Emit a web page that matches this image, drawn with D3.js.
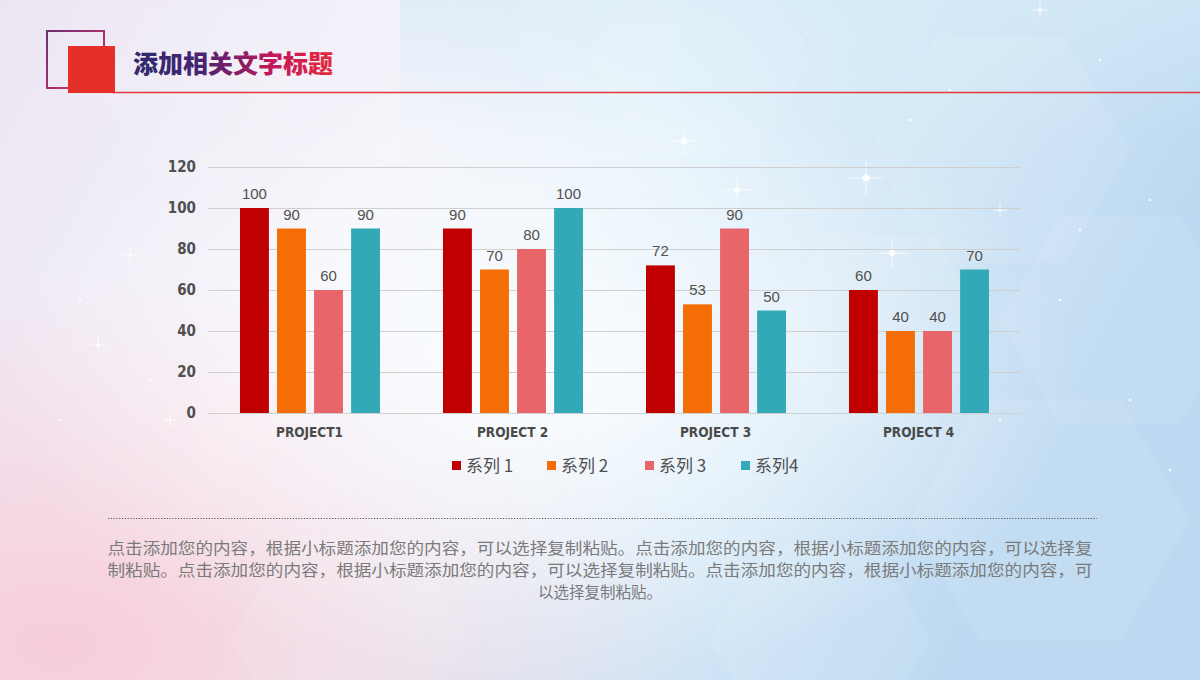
<!DOCTYPE html>
<html><head><meta charset="utf-8">
<script src="https://cdn.jsdelivr.net/npm/d3@7/dist/d3.min.js"></script>
<style>
html,body{margin:0;padding:0;overflow:hidden;background:#fff;}
svg{display:block;}
.cond{font-family:'DejaVu Sans Condensed','DejaVu Sans',sans-serif;font-stretch:condensed;font-weight:bold;}
</style></head>
<body>
<svg id="c" width="1200" height="680"></svg>
<script>
const categories = ["PROJECT1", "PROJECT 2", "PROJECT 3", "PROJECT 4"];
const seriesNames = ["系列 1", "系列 2", "系列 3", "系列4"];
const series1 = [100, 90, 72, 60];
const series2 = [90, 70, 53, 40];
const series3 = [60, 80, 90, 40];
const series4 = [90, 100, 50, 70];
const yTicks = [0, 20, 40, 60, 80, 100, 120];
const colors = ["#c00000", "#f56d05", "#e8656a", "#33a9b8"];
const titleText = "添加相关文字标题";
const bodyLines = [
  "点击添加您的内容，根据小标题添加您的内容，可以选择复制粘贴。点击添加您的内容，根据小标题添加您的内容，可以选择复",
  "制粘贴。点击添加您的内容，根据小标题添加您的内容，可以选择复制粘贴。点击添加您的内容，根据小标题添加您的内容，可",
  "以选择复制粘贴。"
];
const allSeries = [series1, series2, series3, series4];

const svg = d3.select("#c");
const defs = svg.append("defs");

// background
const bg = defs.append("linearGradient").attr("id","bg").attr("x1","0").attr("y1","0").attr("x2","1").attr("y2","0.3");
bg.append("stop").attr("offset","0").attr("stop-color","#ece6f3");
bg.append("stop").attr("offset","0.35").attr("stop-color","#f4f3fa");
bg.append("stop").attr("offset","0.55").attr("stop-color","#e6f3fb");
bg.append("stop").attr("offset","1").attr("stop-color","#bcd9f1");
svg.append("rect").attr("width",1200).attr("height",680).attr("fill","url(#bg)");
const pink = defs.append("radialGradient").attr("id","pink").attr("cx","0.05").attr("cy","0.95").attr("r","0.55");
pink.append("stop").attr("offset","0").attr("stop-color","#f7c9d6").attr("stop-opacity",0.9);
pink.append("stop").attr("offset","1").attr("stop-color","#f7c9d6").attr("stop-opacity",0);
svg.append("rect").attr("width",1200).attr("height",680).attr("fill","url(#pink)");
const white = defs.append("radialGradient").attr("id","wh").attr("cx","0.45").attr("cy","0.55").attr("r","0.45");
white.append("stop").attr("offset","0").attr("stop-color","#ffffff").attr("stop-opacity",0.85);
white.append("stop").attr("offset","1").attr("stop-color","#ffffff").attr("stop-opacity",0);
svg.append("rect").attr("width",1200).attr("height",680).attr("fill","url(#wh)");
const topb = defs.append("linearGradient").attr("id","topb").attr("x1","0").attr("y1","0").attr("x2","0").attr("y2","1");
topb.append("stop").attr("offset","0").attr("stop-color","#d4eaf7").attr("stop-opacity",0.6);
topb.append("stop").attr("offset","1").attr("stop-color","#d4eaf7").attr("stop-opacity",0);
svg.append("rect").attr("x",400).attr("width",800).attr("height",140).attr("fill","url(#topb)");
// faint hexagons
const hexes = [[700,60,110],[1000,150,130],[1120,320,120],[880,330,110],[1050,520,140],[600,20,90],[200,90,100],[350,640,120],[820,640,110]];
svg.append("g").selectAll("path").data(hexes).join("path")
  .attr("d", d => { const [cx,cy,r]=d; return d3.range(6).map((i)=>{const a=Math.PI/3*i; return (i?"L":"M")+(cx+r*Math.cos(a))+","+(cy+r*Math.sin(a));}).join("")+"Z"; })
  .attr("fill","#ffffff").attr("opacity",0.09);
// sparkles
const sparks = [[684,141,1],[737,190,1],[866,178,1.2],[892,253,1],[1040,10,0.6],[130,255,0.5],[98,345,0.6],[170,420,0.5],[1000,210,0.5]];
const sg = svg.append("g");
sparks.forEach(([x,y,s])=>{
  sg.append("circle").attr("cx",x).attr("cy",y).attr("r",3*s).attr("fill","#fff").attr("opacity",0.95);
  sg.append("path").attr("d",`M${x-14*s},${y}L${x+14*s},${y}M${x},${y-14*s}L${x},${y+14*s}`).attr("stroke","#fff").attr("stroke-width",1).attr("opacity",0.8);
});
const dots = [[800,40],[950,90],[1100,60],[1150,200],[980,250],[1060,300],[760,250],[1130,400],[1170,470],[1000,420],[910,120],[1080,230],[120,200],[80,300],[150,380],[60,420]];
svg.append("g").selectAll("circle").data(dots).join("circle").attr("cx",d=>d[0]).attr("cy",d=>d[1]).attr("r",1.3).attr("fill","#fff").attr("opacity",0.9);

// title decorations
const tg = defs.append("linearGradient").attr("id","tg").attr("x1","0").attr("y1","0").attr("x2","1").attr("y2","0");
tg.append("stop").attr("offset","0").attr("stop-color","#2d2a6e");
tg.append("stop").attr("offset","0.35").attr("stop-color","#4a2470");
tg.append("stop").attr("offset","0.7").attr("stop-color","#c3185a");
tg.append("stop").attr("offset","1").attr("stop-color","#e52a3a");
const sq = defs.append("linearGradient").attr("id","sq").attr("x1","0").attr("y1","0").attr("x2","1").attr("y2","1");
sq.append("stop").attr("offset","0").attr("stop-color","#6a3070");
sq.append("stop").attr("offset","1").attr("stop-color","#e0306a");
svg.append("rect").attr("x",47).attr("y",31).attr("width",57).attr("height",57).attr("fill","none").attr("stroke","url(#sq)").attr("stroke-width",2);
svg.append("line").attr("x1",112).attr("x2",1200).attr("y1",92.5).attr("y2",92.5).attr("stroke","#e03a3a").attr("stroke-width",1.3);
svg.append("rect").attr("x",68).attr("y",46).attr("width",47).attr("height",47).attr("fill","#e5302a");
svg.append("text").attr("x",133).attr("y",73).text(titleText)
  .attr("font-family","'Noto Sans CJK SC'").attr("font-weight",900).attr("font-size",25).attr("fill","url(#tg)");

// chart
const x0 = d3.scaleBand().domain(categories).range([208,1020]).paddingInner(0).paddingOuter(0);
const x1 = d3.scaleBand().domain(d3.range(4)).range([32, 172]).paddingInner(0.22).paddingOuter(0);
const y = d3.scaleLinear().domain([0,120]).range([413,167]);

const yAxis = svg.append("g").attr("transform","translate(208,0)")
  .call(d3.axisLeft(y).tickValues(yTicks).tickSize(-812).tickPadding(12));
yAxis.select(".domain").remove();
yAxis.selectAll(".tick line").attr("stroke","#cfcfcf").attr("stroke-width",1);
yAxis.selectAll(".tick text").attr("class","cond").attr("font-size",15).attr("fill","#505050");

const xAxis = svg.append("g").attr("transform","translate(0,413)")
  .call(d3.axisBottom(x0).tickSize(0).tickPadding(14));
xAxis.select(".domain").attr("stroke","#d0d0d0");
xAxis.selectAll(".tick text").attr("class","cond").attr("font-size",13.5).attr("fill","#4a4a4a");

const groups = svg.append("g").selectAll("g").data(categories).join("g")
  .attr("transform", d => `translate(${x0(d)},0)`);
groups.each(function(cat, ci){
  const g = d3.select(this);
  const vals = allSeries.map((s,si)=>({si, v:s[ci]}));
  g.selectAll("rect").data(vals).join("rect")
    .attr("x", d=>x1(d.si)).attr("width", x1.bandwidth())
    .attr("y", d=>y(d.v)).attr("height", d=>y(0)-y(d.v))
    .attr("fill", d=>colors[d.si]);
  g.selectAll("text").data(vals).join("text")
    .attr("x", d=>x1(d.si)+x1.bandwidth()/2).attr("y", d=>y(d.v)-9)
    .attr("text-anchor","middle").attr("font-family","'Liberation Sans',Arial,sans-serif").attr("font-size",15).attr("fill","#505050")
    .text(d=>d.v);
});

// legend
const legX = [452, 547, 645, 741];
const lg = svg.append("g").selectAll("g").data(seriesNames).join("g")
  .attr("transform",(d,i)=>`translate(${legX[i]},466)`);
lg.append("rect").attr("x",0).attr("y",-5).attr("width",9).attr("height",9).attr("fill",(d,i)=>colors[i]);
lg.append("text").attr("x",14).attr("y",6).text(d=>d)
  .attr("font-family","'Noto Sans CJK SC',sans-serif").attr("font-size",17).attr("fill","#505050");

// dotted separator
svg.append("line").attr("x1",108).attr("x2",1097).attr("y1",518.5).attr("y2",518.5)
  .attr("stroke","#555").attr("stroke-width",1.2).attr("stroke-dasharray","1.2,1.6");

// paragraph
svg.append("g").selectAll("text").data(bodyLines).join("text")
  .attr("x",600).attr("y",(d,i)=>554+i*22).attr("text-anchor","middle")
  .attr("font-family","'Noto Sans CJK SC',sans-serif").attr("font-size",15.5).attr("fill","#7a7a7a")
  .attr("textLength",(d,i)=> i<2 ? 985 : null).attr("lengthAdjust","spacingAndGlyphs")
  .text(d=>d);
</script>
</body></html>
